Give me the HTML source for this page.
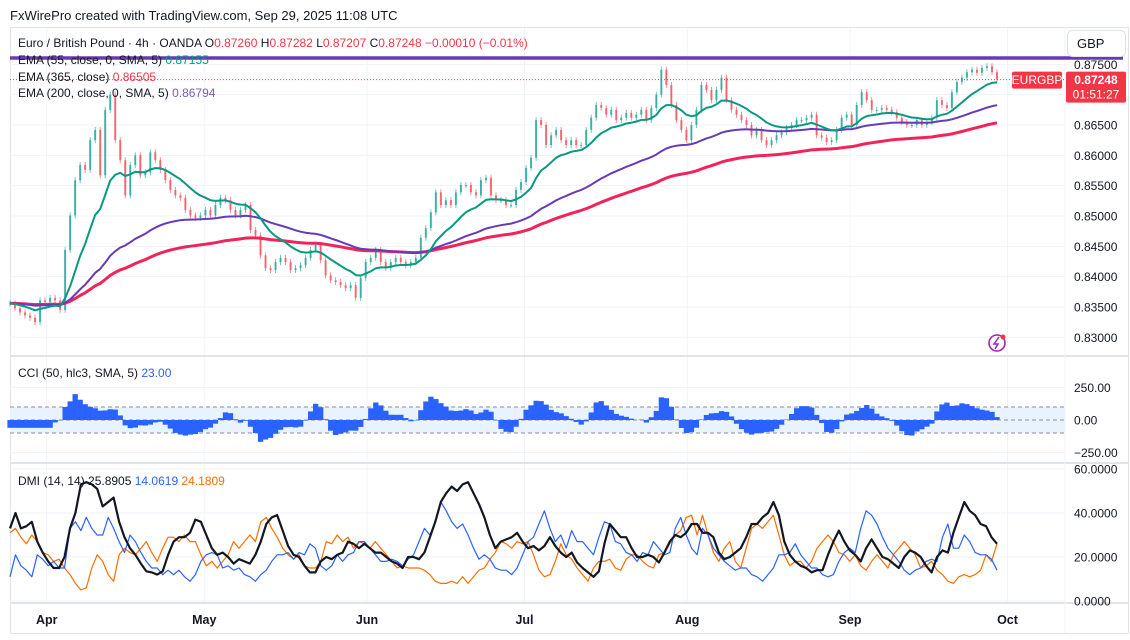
<!DOCTYPE html>
<html><head><meta charset="utf-8"><style>
body{margin:0;background:#fff;width:1130px;height:635px;overflow:hidden;font-family:"Liberation Sans",sans-serif}
svg text{font-family:"Liberation Sans",sans-serif}
</style></head><body>
<svg id="c" width="1130" height="635" viewBox="0 0 1130 635">
<rect x="0" y="0" width="1130" height="635" fill="#fff"/>
<text x="10" y="20" font-size="13" fill="#131722">FxWirePro created with TradingView.com, Sep 29, 2025 11:08 UTC</text>
<rect x="10.5" y="27.5" width="1118" height="606" fill="none" stroke="#e0e3eb"/>
<g id="grid"></g>
<g id="bg"></g>
<g id="marks"></g>
<g id="over"></g>
</svg>
<script>
const closes=[.8356,.8348,.8341,.8336,.8332,.8325,.8361,.8358,.8365,.8361,.8345,.8444,.8501,.8559,.8584,.8576,.8625,.8642,.8567,.8675,.8700,.8625,.8592,.8534,.8584,.8600,.8567,.8572,.8605,.8592,.8576,.8559,.8543,.8534,.8530,.8510,.8501,.8497,.8501,.8510,.8501,.8518,.8530,.8526,.8510,.8501,.8510,.8518,.8477,.8468,.8435,.8414,.8411,.8424,.8431,.8424,.8411,.8414,.8419,.8431,.8444,.8452,.8427,.8402,.8394,.8391,.8386,.8381,.8386,.8365,.8398,.8424,.8431,.8444,.8424,.8414,.8424,.8431,.8424,.8419,.8424,.8431,.8464,.8480,.8506,.8539,.8518,.8526,.8518,.8539,.8551,.8551,.8539,.8534,.8559,.8563,.8534,.8526,.8526,.8518,.8518,.8543,.8556,.8579,.8596,.8658,.8650,.8617,.8633,.8642,.8625,.8617,.8625,.8617,.8617,.8642,.8662,.8683,.8678,.8667,.8675,.8658,.8662,.8670,.8662,.8667,.8675,.8658,.8678,.8700,.8741,.8716,.8683,.8658,.8642,.8625,.8650,.8675,.8716,.8708,.8691,.8708,.8728,.8691,.8675,.8667,.8658,.8650,.8633,.8642,.8625,.8617,.8625,.8633,.8638,.8645,.8650,.8658,.8658,.8662,.8667,.8633,.8629,.8622,.8625,.8642,.8662,.8667,.8650,.8683,.8704,.8691,.8675,.8675,.8678,.8675,.8671,.8662,.8655,.8650,.8650,.8658,.8650,.8655,.8662,.8691,.8683,.8678,.8704,.8721,.8728,.8737,.8741,.8736,.8744,.8747,.8737,.87248];
const adx=[33,40,33,34,36,27,22,18,15,15,20,33,40,53,54,53,51,43,45,47,36,29,24,21,17,13.5,13,12,13.5,21,27,29,29,31,37,36,30,24,21,22,20,17,19,18,17,21,27,35,38,39,32,25,21,20,16,13,13,18,20,19,21,22,27,26,24,26,24,22,22,20,18,17,15,20,20,19,22,29,36,45,49,52,50,53,54,49,44,38,30,24,27,28,29,31,27,24,25,23,25,29,25,22,20,22,17.5,15,13,11,13.5,26,35,32,29,29,24,20,20,21,20,17.5,22,27,30,29,31,35,35,31,31,29,22,19,20,22,24,29,35,35,38,40,45,39,27,21,18,16,15,13,14,14,21,27,32,27,23,21,18,24,28,24,20,19,17,15,20,23,22,20,16,13,20,23,22,31,38,45,41,39,35,34,29,26];
const diPlus=[11,21,16,14,11,21,19,16,18,15,15,33,36,32,38,33,30,30,38,33,27,22,30,27,22,18,15,15,12,14,12,14,11,9,12,18,21,22,21,15,16,14,15,12,11,9,12,14,18,21,21,22,19,22,21,26,24,16,14,16,21,18,21,22,27,27,24,21,18,18,19,18,16,19,21,27,33,30,36,45,41,36,33,35,30,24,19,21,19,15,14,14,12,15,21,27,29,35,41,33,27,30,24,32,27,27,24,21,29,36,35,27,26,22,21,18,22,21,27,24,21,22,33,38,30,24,21,33,30,24,21,18,16,14,15,15,12,11,9,12,15,21,21,22,26,21,18,15,15,12,11,12,18,22,24,22,33,41,39,35,29,24,21,18,14,12,14,15,18,19,18,29,35,24,24,30,27,22,21,21,19,14];
const diMinus=[31,33,29,26,30,27,22,21,18,19,15,12,8,5,6,15,21,18,12,9,21,24,22,21,24,27,22,18,24,29,29,27,30,27,27,21,16,18,15,18,21,27,24,27,30,27,36,38,33,29,24,21,19,21,16,15,15,18,27,26,30,27,29,24,27,26,24,27,24,21,18,15,16,15,15,15,14,12,9,8,8,9,8,11,8,11,14,15,19,22,27,26,24,27,26,27,21,14,11,12,18,26,21,19,15,12,9,15,18,18,19,15,14,19,21,21,18,16,15,21,22,26,30,32,38,39,30,39,30,22,18,24,27,18,15,24,33,35,33,36,39,30,21,16,18,18,15,18,24,27,30,27,22,21,18,21,16,14,18,21,18,15,21,24,27,24,21,15,16,18,14,12,9,8,11,12,11,12,14,21,18,26];
const priceTicks=[0.830,0.835,0.840,0.845,0.850,0.855,0.860,0.865,0.870,0.875];
const cciTicks=[250,0,-250];
const dmiTicks=[60,40,20,0];
const months=["Apr","May","Jun","Jul","Aug","Sep","Oct"];
const monthDays=[7,37,68,98,129,160,190];

const NS="http://www.w3.org/2000/svg";
const X0=10,X1=997,AXL=1065;
const py=p=>125+(0.865-p)*6066;
const cy=v=>420-v*0.13;
const dy=v=>601-v*2.2;
const xi=(i,n)=>X0+i*(X1-X0)/(n-1);
const dayX=d=>X0+d*(X1-X0)/188;
function el(tag,attrs,parent,txt){const e=document.createElementNS(NS,tag);for(const k in attrs)e.setAttribute(k,attrs[k]);if(txt!==undefined)e.textContent=txt;parent.appendChild(e);return e;}
const G=document.getElementById('grid'),B=document.getElementById('bg'),M=document.getElementById('marks'),O=document.getElementById('over');

months.forEach((m,i)=>{const x=dayX(monthDays[i]);
 const l=el('line',{x1:x,x2:x,y1:28,y2:603,stroke:'#f0f3fa'},G);
 
 
 const t=el('text',{x:x,y:624,'font-size':12.5,'font-weight':'bold','text-anchor':'middle',fill:'#131722'},O,m);
 
 });
priceTicks.forEach(p=>{const y=py(p);
 el('line',{x1:X0,x2:AXL,y1:y,y2:y,stroke:'#f0f3fa'},G);
 const t=el('text',{x:1074,y:y+4.5,'font-size':12,fill:'#131722'},O,p.toFixed(5));
 
 });
cciTicks.forEach(v=>{const y=cy(v);
 if(v!==0)el('line',{x1:X0,x2:AXL,y1:y,y2:y,stroke:'#f0f3fa'},G);
 const t=el('text',{x:1074,y:y+4.5,'font-size':12,fill:'#131722'},O,(v<0?'\u2212'+Math.abs(v).toFixed(2):v.toFixed(2)));
 
 });
dmiTicks.forEach(v=>{const y=dy(v);
 el('line',{x1:X0,x2:AXL,y1:y,y2:y,stroke:'#f0f3fa'},G);
 const t=el('text',{x:1074,y:y+4.5,'font-size':12,fill:'#131722'},O,v.toFixed(4));
 
 });
[[X0,356,1128,356],[X0,463,1128,463],[X0,603,1128,603]].forEach(a=>{const l=el('line',{x1:a[0],x2:a[2],y1:a[1],y2:a[3],stroke:'#e0e3eb','stroke-width':2},G);
 
 });
el('line',{x1:AXL,x2:AXL,y1:28,y2:633,stroke:'#f0f3fa'},G);

const band=el('rect',{x:X0,y:cy(100),width:AXL-X0,height:cy(-100)-cy(100),fill:'#e8f3fd'},B);


[100,0,-100].forEach(v=>el('line',{x1:X0,x2:AXL,y1:cy(v),y2:cy(v),stroke:'#8a8e99','stroke-dasharray':'4 3'},B));

const n=closes.length;
closes.forEach((c,i)=>{const o=i?closes[i-1]:c;const up=c>=o;const x=xi(i,n);
 const hi=Math.max(o,c)+0.0005,lo=Math.min(o,c)-0.0005;const col=up?'#26a69a':'#f7525f';
 const g=el('g',{},M);
 
 
 el('line',{x1:x,x2:x,y1:py(hi),y2:py(lo),stroke:col,'stroke-width':0.8,opacity:.8},g);
 el('rect',{x:x-1,y:py(Math.max(o,c)),width:2,height:Math.max(1,Math.abs(py(o)-py(c))),fill:col,opacity:.8},g);});

function ema(arr,per){const a=2/(per+1);let e=arr[0];return arr.map(v=>e=e+a*(v-e));}
function line(vals,fy,col,w,name){const pts=vals.map((v,i)=>xi(i,vals.length).toFixed(1)+','+fy(v).toFixed(1)).join(' ');
 const p=el('polyline',{points:pts,fill:'none',stroke:col,'stroke-width':w,'stroke-linejoin':'round'},M);
 
 }
line(ema(closes,89),py,'#f0245a',3,'ema-365-line');
line(ema(closes,49),py,'#673ab7',2,'ema-200-line');
line(ema(closes,13),py,'#089981',2,'ema-55-line');

const per=10;const cci=closes.map((c,i)=>{if(i<per-1)return -60;const w=closes.slice(i-per+1,i+1);const m=w.reduce((a,b)=>a+b)/per;const md=w.reduce((a,b)=>a+Math.abs(b-m),0)/per||1e-6;return Math.max(-280,Math.min(280,(c-m)/(0.015*md)*0.9));});
const cciS=cci.map((v,i)=>(v+(cci[i-1]??v)+(cci[i-2]??v))/3);
cciS.forEach((v,i)=>{const x=xi(i,n);const y0=cy(0),y1=cy(v);
 const r=el('rect',{x:x-2.6,y:Math.min(y0,y1),width:5.3,height:Math.abs(y1-y0),fill:'#2962ff'},M);
 
 });

line(diMinus,dy,'#ff6d00',1.2,'dmi-minus-line');
line(diPlus,dy,'#2962ff',1.2,'dmi-plus-line');
line(adx,dy,'#131722',2.2,'adx-line');

const last=closes[n-1];
const hl=el('line',{x1:X0,x2:1123,y1:58,y2:58,stroke:'#673ab7','stroke-width':3.5},O);


const pl=el('line',{x1:X0,x2:AXL,y1:py(last),y2:py(last),stroke:'#f23645','stroke-dasharray':'1 2'},O);


const lbl=el('g',{},O);


el('rect',{x:1012,y:py(last)-8,width:50,height:17,rx:2,fill:'#f23645'},lbl);
el('text',{x:1037,y:py(last)+4.5,'font-size':12,fill:'#fff','text-anchor':'middle'},lbl,'EURGBP');
el('rect',{x:1066,y:py(last)-8,width:60,height:31,rx:2,fill:'#f23645'},lbl);
el('text',{x:1096,y:py(last)+4.5,'font-size':12,'font-weight':'bold',fill:'#fff','text-anchor':'middle'},lbl,last.toFixed(5));
el('text',{x:1096,y:py(last)+19,'font-size':12,fill:'#fff','text-anchor':'middle'},lbl,'01:51:27');
</script>
<svg width="1130" height="635" style="position:absolute;left:0;top:0">
<g><rect x="1067.5" y="30.5" width="58" height="26" rx="5" fill="#fff" stroke="#e0e3eb"/><text x="1077" y="48" font-size="13" fill="#131722">GBP</text></g>
<text x="18" y="47" font-size="12" fill="#131722">Euro / British Pound · 4h · OANDA  O<tspan fill="#f23645">0.87260</tspan>  H<tspan fill="#f23645">0.87282</tspan>  L<tspan fill="#f23645">0.87207</tspan>  C<tspan fill="#f23645">0.87248</tspan>  <tspan fill="#f23645">−0.00010 (−0.01%)</tspan></text>
<text x="18" y="64" font-size="12" fill="#131722">EMA (55, close, 0, SMA, 5)  <tspan fill="#089981">0.87155</tspan></text>
<text x="18" y="81" font-size="12" fill="#131722">EMA (365, close)  <tspan fill="#f23645">0.86505</tspan></text>
<text x="18" y="97" font-size="12" fill="#131722">EMA (200, close, 0, SMA, 5)  <tspan fill="#7e57c2">0.86794</tspan></text>
<text x="18" y="377" font-size="12" fill="#131722">CCI (50, hlc3, SMA, 5)  <tspan fill="#2962ff">23.00</tspan></text>
<text x="18" y="485" font-size="12" fill="#131722">DMI (14, 14)  25.8905  <tspan fill="#2962ff">14.0619</tspan>  <tspan fill="#ff6d00">24.1809</tspan></text>
<g><circle cx="997" cy="343" r="8" fill="none" stroke="#9c27b0" stroke-width="1.6"/><path d="M999 337 L994 344 L998 344 L995 349" fill="none" stroke="#9c27b0" stroke-width="1.5"/><circle cx="1003" cy="337" r="2.5" fill="#f23645"/></g>
</svg>
</body></html>
